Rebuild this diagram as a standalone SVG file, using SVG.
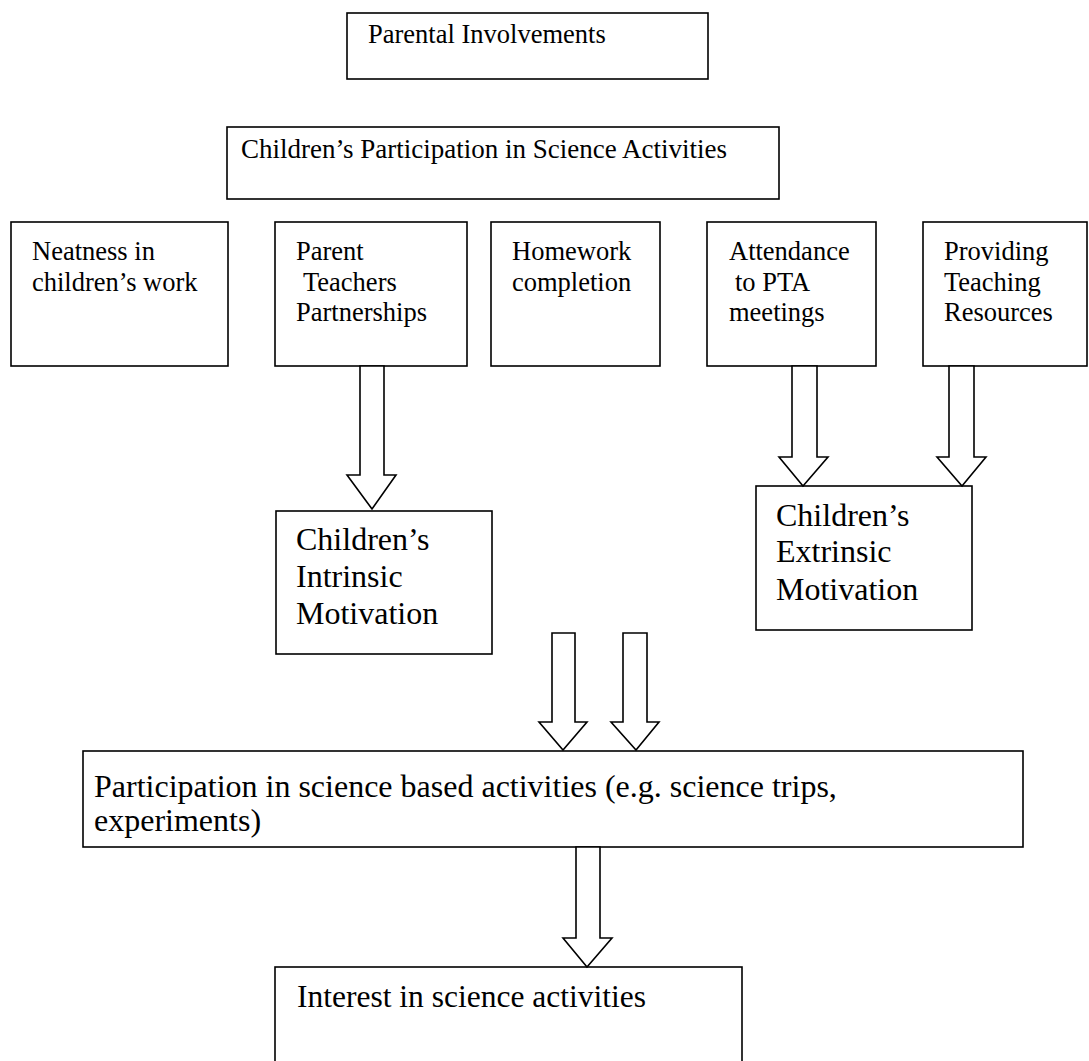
<svg xmlns="http://www.w3.org/2000/svg" width="1089" height="1061" viewBox="0 0 1089 1061">
<style>
.box{fill:#fff;stroke:#000;stroke-width:1.6}
.arr{fill:#fff;stroke:#000;stroke-width:1.6;stroke-linejoin:miter}
.s{font-family:"Liberation Serif","Times New Roman",serif;font-size:26.5px;fill:#000}
.l{font-family:"Liberation Serif","Times New Roman",serif;font-size:32px;fill:#000}
</style>
<rect width="1089" height="1061" fill="#fff"/>
<g id="parental-involvements">
<rect class="box" x="347" y="13" width="361" height="66"/>
<text class="s" x="368" y="43">Parental Involvements</text>
</g>
<g id="childrens-participation">
<rect class="box" x="227" y="127" width="552" height="72"/>
<text class="s" x="241" y="158" style="font-size:27px">Children’s Participation in Science Activities</text>
</g>
<g id="neatness">
<rect class="box" x="11" y="222" width="217" height="144"/>
<text class="s" x="32" y="260">Neatness in</text>
<text class="s" x="32" y="291">children’s work</text>
</g>
<g id="parent-teachers">
<rect class="box" x="275" y="222" width="192" height="144"/>
<text class="s" x="296" y="260">Parent</text>
<text class="s" x="303" y="291">Teachers</text>
<text class="s" x="296" y="321">Partnerships</text>
</g>
<g id="homework">
<rect class="box" x="491" y="222" width="169" height="144"/>
<text class="s" x="512" y="260">Homework</text>
<text class="s" x="512" y="291">completion</text>
</g>
<g id="attendance">
<rect class="box" x="707" y="222" width="169" height="144"/>
<text class="s" x="729" y="260">Attendance</text>
<text class="s" x="735" y="291">to PTA</text>
<text class="s" x="729" y="321">meetings</text>
</g>
<g id="providing">
<rect class="box" x="923" y="222" width="164" height="144"/>
<text class="s" x="944" y="260">Providing</text>
<text class="s" x="944" y="291">Teaching</text>
<text class="s" x="944" y="321">Resources</text>
</g>
<g id="intrinsic">
<rect class="box" x="276" y="511" width="216" height="143"/>
<text class="l" x="296" y="550">Children’s</text>
<text class="l" x="296" y="587">Intrinsic</text>
<text class="l" x="296" y="624">Motivation</text>
</g>
<g id="extrinsic">
<rect class="box" x="756" y="486" width="216" height="144"/>
<text class="l" x="776" y="526">Children’s</text>
<text class="l" x="776" y="562">Extrinsic</text>
<text class="l" x="776" y="600">Motivation</text>
</g>
<g id="participation">
<rect class="box" x="83" y="751" width="940" height="96"/>
<text class="l" x="94" y="797">Participation in science based activities (e.g. science trips,</text>
<text class="l" x="94" y="831">experiments)</text>
</g>
<g id="interest">
<rect class="box" x="275" y="967" width="467" height="110"/>
<text class="l" x="297" y="1007" style="font-size:31.5px">Interest in science activities</text>
</g>
<g id="connectors">
<polygon class="arr" points="360,366 384,366 384,475 396,475 372,509 347,475 360,475"/>
<polygon class="arr" points="792,366 817,366 817,457 828,457 803,486 779,457 792,457"/>
<polygon class="arr" points="949,366 974,366 974,457 986,457 962,486 937,457 949,457"/>
<polygon class="arr" points="552,633 575,633 575,722 587,722 563,750 539,722 552,722"/>
<polygon class="arr" points="623,633 647,633 647,722 659,722 636,750 611,722 623,722"/>
<polygon class="arr" points="576,847 600,847 600,938 612,938 587,967 563,938 576,938"/>
</g>
</svg>
